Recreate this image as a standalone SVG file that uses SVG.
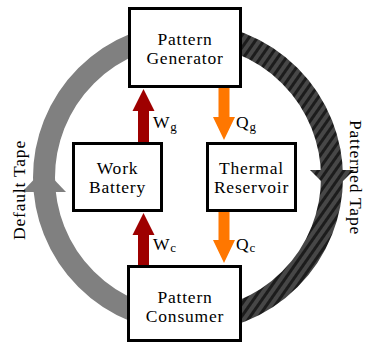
<svg xmlns="http://www.w3.org/2000/svg" width="366" height="344" viewBox="0 0 366 344">
<style>
text{font-family:"Liberation Serif","Times New Roman",serif;font-size:17.5px;fill:#000;letter-spacing:0.8px}
.c{text-anchor:middle}
.box{fill:#fff;stroke:#000;stroke-width:3}
.w{fill:#9e0000}
.q{fill:#ff7700}
.sub{font-size:13px;letter-spacing:0}
</style>
<defs>
<pattern id="stripes" patternUnits="userSpaceOnUse" width="7" height="7" patternTransform="rotate(35)">
<rect width="7" height="7" fill="#474747"/>
<rect width="3" height="7" fill="#1c1c1c"/>
</pattern>
</defs>
<g id="connectors">
<g id="default-tape">
<path d="M188,321.5 A144,144 0 0 1 188,33.5" fill="none" stroke="#808080" stroke-width="22"/>
<polygon points="22,192 66,192 44,169" fill="#808080"/>
</g>
<g id="patterned-tape">
<path d="M188,33.5 A144,144 0 0 1 188,321.5" fill="none" stroke="url(#stripes)" stroke-width="22"/>
<polygon points="310,170 354,170 332,192" fill="url(#stripes)"/>
</g>
<polygon class="w" id="arrow-wg" points="138,142 138,111 132.5,111 143.5,89 154.5,111 149,111 149,142"/>
<polygon class="w" id="arrow-wc" points="138,265 138,235 132.5,235 143.5,213 154.5,235 149,235 149,265"/>
<polygon class="q" id="arrow-qg" points="218.5,88 218.5,117 213,117 224,140 235,117 229.5,117 229.5,88"/>
<polygon class="q" id="arrow-qc" points="218.5,212 218.5,240 213,240 224,263 235,240 229.5,240 229.5,212"/>
<text x="153" y="128" letter-spacing="0">W<tspan class="sub" dy="2.5">g</tspan></text>
<text x="153" y="250" letter-spacing="0">W<tspan class="sub" dy="2">c</tspan></text>
<text x="236" y="128" letter-spacing="0">Q<tspan class="sub" dy="2.5">g</tspan></text>
<text x="236" y="250" letter-spacing="0">Q<tspan class="sub" dy="2">c</tspan></text>
<text class="c" transform="translate(25,190) rotate(-90)">Default Tape</text>
<text class="c" transform="translate(350,177.5) rotate(90)">Patterned Tape</text>
</g>
<g id="pattern-generator">
<rect class="box" x="129.5" y="8.5" width="111" height="78"/>
<text class="c" x="185" y="45">Pattern</text>
<text class="c" x="185" y="64">Generator</text>
</g>
<g id="work-battery">
<rect class="box" x="73.5" y="143.5" width="88" height="67"/>
<text class="c" x="117.5" y="174.3">Work</text>
<text class="c" x="117.5" y="193.3">Battery</text>
</g>
<g id="thermal-reservoir">
<rect class="box" x="207.5" y="143.5" width="88" height="67"/>
<text class="c" x="251.5" y="174.3">Thermal</text>
<text class="c" x="251.5" y="193.3">Reservoir</text>
</g>
<g id="pattern-consumer">
<rect class="box" x="128.5" y="266.5" width="112" height="74"/>
<text class="c" x="185" y="302.7">Pattern</text>
<text class="c" x="185" y="321.7">Consumer</text>
</g>
</svg>
